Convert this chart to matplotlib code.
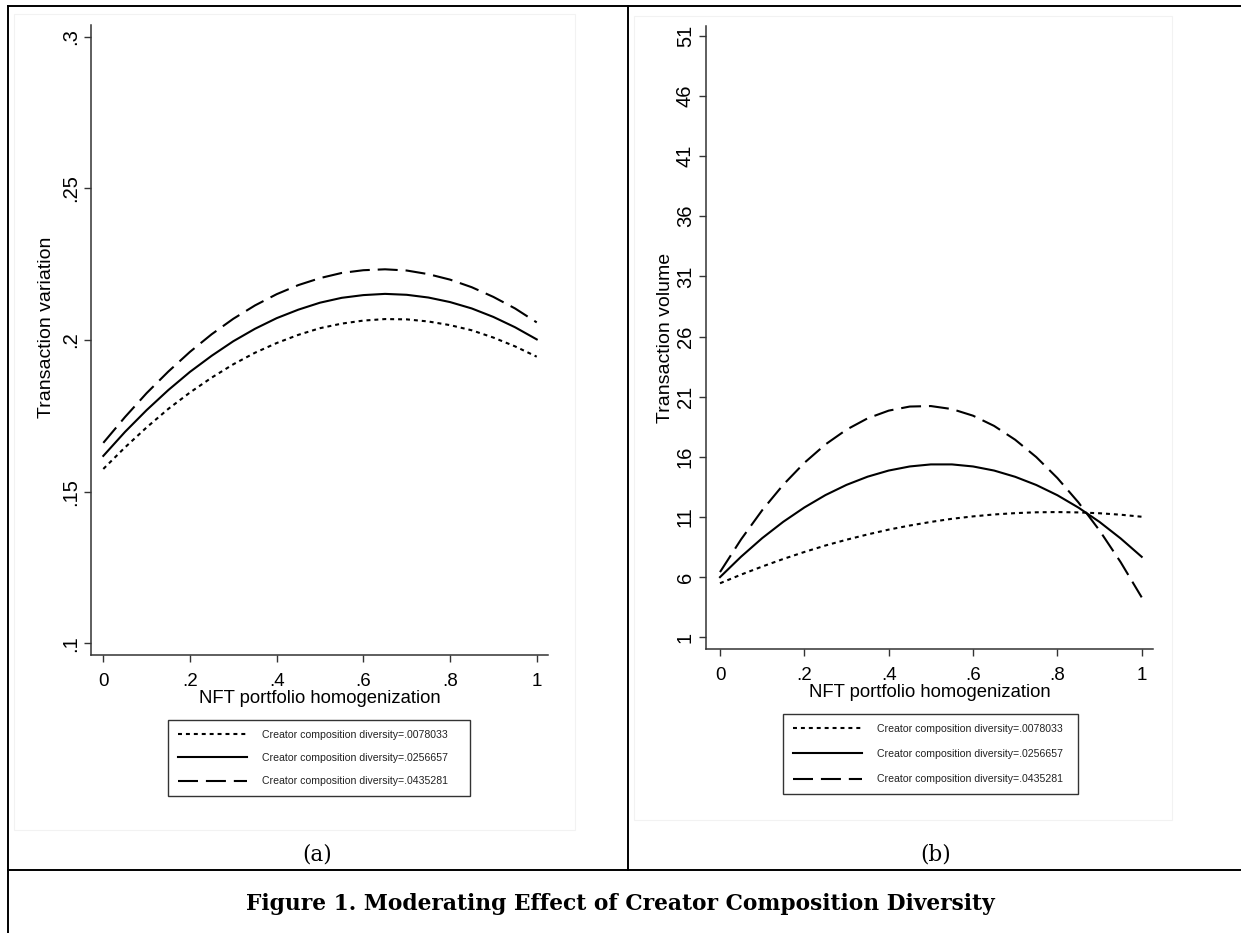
import matplotlib
matplotlib.use("Agg")
import matplotlib.pyplot as plt
from matplotlib.lines import Line2D
from matplotlib.patches import Rectangle

# ---------------- data ----------------
x_vals = [0.00, 0.05, 0.10, 0.15, 0.20, 0.25, 0.30, 0.35, 0.40, 0.45, 0.50,
          0.55, 0.60, 0.65, 0.70, 0.75, 0.80, 0.85, 0.90, 0.95, 1.00]

series_labels = [
    "Creator composition diversity=.0078033",
    "Creator composition diversity=.0256657",
    "Creator composition diversity=.0435281",
]

# Panel (a): Transaction variation
var_low = [0.1575, 0.1646, 0.1712, 0.1773, 0.1827, 0.1876, 0.1920, 0.1958, 0.1990, 0.2017, 0.2039,
           0.2054, 0.2064, 0.2069, 0.2068, 0.2061, 0.2049, 0.2032, 0.2008, 0.1979, 0.1945]
var_mid = [0.1618, 0.1697, 0.1769, 0.1835, 0.1895, 0.1948, 0.1996, 0.2037, 0.2072, 0.2100, 0.2123,
           0.2139, 0.2148, 0.2152, 0.2149, 0.2140, 0.2125, 0.2104, 0.2076, 0.2042, 0.2002]
var_high = [0.1661, 0.1746, 0.1825, 0.1896, 0.1961, 0.2019, 0.2070, 0.2114, 0.2151, 0.2181, 0.2204,
            0.2221, 0.2230, 0.2233, 0.2229, 0.2217, 0.2199, 0.2174, 0.2142, 0.2104, 0.2058]

# Panel (b): Transaction volume
vol_low = [5.49, 6.21, 6.88, 7.51, 8.09, 8.63, 9.11, 9.55, 9.95, 10.29, 10.59,
           10.85, 11.05, 11.21, 11.32, 11.39, 11.41, 11.38, 11.31, 11.19, 11.02]
vol_mid = [6.00, 7.70, 9.24, 10.60, 11.79, 12.82, 13.67, 14.35, 14.86, 15.20, 15.37,
           15.37, 15.20, 14.86, 14.34, 13.66, 12.81, 11.78, 10.59, 9.22, 7.69]
vol_high = [6.42, 9.14, 11.56, 13.68, 15.50, 17.03, 18.26, 19.20, 19.84, 20.18, 20.22,
            19.97, 19.42, 18.57, 17.42, 15.98, 14.24, 12.21, 9.88, 7.25, 4.32]

x_ticks = [0, 0.2, 0.4, 0.6, 0.8, 1.0]
x_ticklabels = ["0", ".2", ".4", ".6", ".8", "1"]
a_yticks = [0.1, 0.15, 0.2, 0.25, 0.3]
a_yticklabels = [".1", ".15", ".2", ".25", ".3"]
b_yticks = [1, 6, 11, 16, 21, 26, 31, 36, 41, 46, 51]
b_yticklabels = [str(v) for v in b_yticks]

x_label = "NFT portfolio homogenization"
a_ylabel = "Transaction variation"
b_ylabel = "Transaction volume"
caption = "Figure 1. Moderating Effect of Creator Composition Diversity"

# ---------------- styling ----------------
plt.rcParams["font.family"] = ["Liberation Sans", "DejaVu Sans"]
W, H = 1241, 933
fig = plt.figure(figsize=(W / 100, H / 100), dpi=100)
fig.patch.set_facecolor("white")

LW = 1.5
styles = [
    dict(color="black", lw=LW, dashes=(1.9, 1.9)),
    dict(color="black", lw=LW, linestyle="-"),
    dict(color="black", lw=LW, dashes=(9.6, 3.8)),
]
axis_col = "#333333"


def px_axes(left, top, right, bottom):
    return [left / W, 1 - bottom / H, (right - left) / W, (bottom - top) / H]


def style_axes(ax, yticks, yticklabels, ylabel, ylab_xy):
    for s in ["top", "right"]:
        ax.spines[s].set_visible(False)
    for s in ["left", "bottom"]:
        ax.spines[s].set_color(axis_col)
        ax.spines[s].set_linewidth(1.1)
    ax.set_xticks(x_ticks)
    ax.set_xticklabels(x_ticklabels)
    ax.set_yticks(yticks)
    ax.set_yticklabels(yticklabels, rotation=90, va="center")
    ax.tick_params(axis="both", direction="out", length=5, width=1.0,
                   color=axis_col, labelcolor="black")
    ax.tick_params(axis="x", labelsize=13.5, pad=8)
    ax.tick_params(axis="y", labelsize=14.5, pad=3)
    ax.set_xlabel(x_label, fontsize=13.3, labelpad=0)
    ax.set_ylabel(ylabel, fontsize=14.0)
    ax.yaxis.set_label_coords(*ylab_xy)
    ax.yaxis.label.set_verticalalignment("center")
    ax.patch.set_alpha(0)


# Panel (a)
axa = fig.add_axes(px_axes(91, 25, 548, 655))
for ys, st, lab in zip([var_low, var_mid, var_high], styles, series_labels):
    axa.plot(x_vals, ys, label=lab, **st)
axa.set_xlim(-0.0284, 1.026)
axa.set_ylim(0.09618, 0.30382)
style_axes(axa, a_yticks, a_yticklabels, a_ylabel, ((47 - 91) / 457, 0.52))

# Panel (b)
axb = fig.add_axes(px_axes(706, 26, 1153, 649.3))
for ys, st, lab in zip([vol_low, vol_mid, vol_high], styles, series_labels):
    axb.plot(x_vals, ys, label=lab, **st)
axb.set_xlim(-0.0332, 1.0268)
axb.set_ylim(0.0025, 51.81)
style_axes(axb, b_yticks, b_yticklabels, b_ylabel, ((665 - 706) / 447, 0.50))


# Legends
def add_legend(ax, left, top, right, bottom, spacing):
    h, l = ax.get_legend_handles_labels()
    bbox = (left / W, 1 - bottom / H, (right - left) / W, (bottom - top) / H)
    leg = fig.legend(h, l, loc="center", bbox_to_anchor=bbox, mode="expand",
                     fontsize=7.6, frameon=True, fancybox=False,
                     edgecolor="#333333", framealpha=1, borderpad=0.9,
                     handlelength=6.6, handletextpad=1.4, labelspacing=spacing,
                     borderaxespad=0)
    leg.get_frame().set_linewidth(1.0)
    for t in leg.get_texts():
        t.set_color("#222222")
    return leg


add_legend(axa, 168, 718, 470, 798, 1.25)
add_legend(axb, 783, 711, 1078, 797, 1.45)

# Faint graph-region boxes from the original Stata images
fig.add_artist(Rectangle((14 / W, 1 - 830 / H), (575 - 14) / W, (830 - 14) / H,
                         transform=fig.transFigure, fill=False,
                         edgecolor="#f2f2f2", lw=0.8))
fig.add_artist(Rectangle((634 / W, 1 - 820 / H), (1172 - 634) / W, (820 - 16) / H,
                         transform=fig.transFigure, fill=False,
                         edgecolor="#f2f2f2", lw=0.8))


# Table-like borders
def hline(y, x0, x1, lw=1.4):
    fig.add_artist(Line2D([x0 / W, x1 / W], [1 - y / H, 1 - y / H],
                          transform=fig.transFigure, color="black", lw=lw))


def vline(x, y0, y1, lw=1.4):
    fig.add_artist(Line2D([x / W, x / W], [1 - y0 / H, 1 - y1 / H],
                          transform=fig.transFigure, color="black", lw=lw))


hline(5.5, 8, W)
hline(870, 8, W)
vline(8, 5.5, H)
vline(628, 5.5, 870)

# Panel labels and caption
fig.text(317 / W, 1 - 855 / H, "(a)", ha="center", va="center",
         fontsize=15.5, family="DejaVu Serif")
fig.text(936 / W, 1 - 855 / H, "(b)", ha="center", va="center",
         fontsize=15.5, family="DejaVu Serif")
fig.text(620 / W, 1 - 904 / H, caption, ha="center", va="center",
         fontsize=15.7, family="DejaVu Serif", fontweight="bold")

fig.savefig("out.png", dpi=100)
